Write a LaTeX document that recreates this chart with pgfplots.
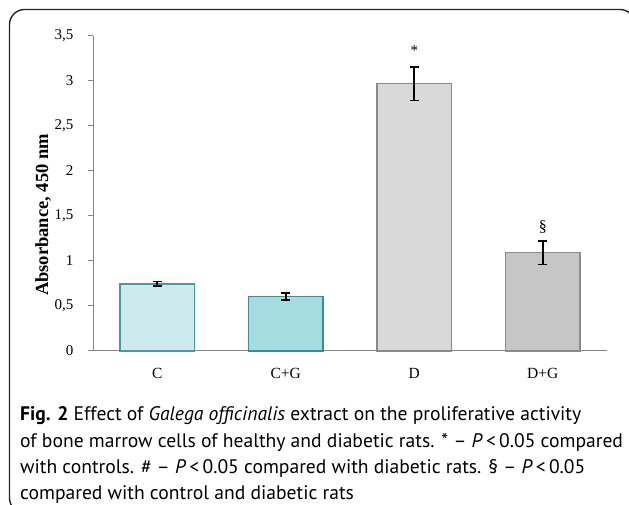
\documentclass[border=0pt]{standalone}
\usepackage{pgfplots}
\pgfplotsset{compat=1.18}
\usepackage{fontspec}
\setmainfont{Liberation Serif}
\newfontfamily\capfont{PT Sans}
\definecolor{cfill}{HTML}{CDEBEE}
\definecolor{cdraw}{HTML}{4A98A2}
\definecolor{cgfill}{HTML}{A6DCE0}
\definecolor{cgdraw}{HTML}{3F8B95}
\definecolor{dfill}{HTML}{D9D9D9}
\definecolor{dgfill}{HTML}{C6C6C6}
\definecolor{gdraw}{HTML}{8A8A8A}
\definecolor{axgray}{HTML}{868686}
\begin{document}
\begin{tikzpicture}[x=1pt,y=1pt]
\draw[line width=1.4pt, black!85, rounded corners=15pt] (9.5pt,-8pt) rectangle (635pt,495.5pt);
\begin{axis}[
  at={(93pt,154pt)}, anchor=south west,
  width=514pt, height=315pt, scale only axis,
  xmin=-0.5, xmax=3.5, ymin=0, ymax=3.5,
  axis lines*=left,
  axis line style={axgray, line width=1pt},
  tick style={axgray, line width=1pt},
  tick align=outside,
  ytick={0,0.5,1,1.5,2,2.5,3,3.5},
  yticklabels={0,{0,5},1,{1,5},2,{2,5},3,{3,5}},
  major tick length=5pt,
  xtick={0,1,2,3},
  xticklabels={C,C+G,D,D+G},
  x tick style={draw=none},
  minor xtick={-0.5,0.5,1.5,2.5,3.5},
  minor x tick style={axgray, line width=1pt},
  minor tick length=6pt,
  yticklabel style={font=\fontsize{15}{15}\selectfont, xshift=-11pt},
  xticklabel style={font=\fontsize{15.5}{15.5}\selectfont, yshift=-9pt},
  ylabel={Absorbance, 450 nm},
  ylabel style={at={(axis description cs:-0.097,0.432)}, anchor=center, rotate=0, font=\bfseries\fontsize{18.5}{18.5}\selectfont},
  clip=false,
]
\addplot[ybar, bar width=74.5pt, bar shift=0pt, fill=cfill, draw=cdraw, line width=1.2pt,
  error bars/.cd, y dir=both, y explicit,
  error bar style={black, line width=1.6pt},
  error mark options={rotate=90, mark size=4.5pt, line width=1.6pt, black}]
  coordinates {(0,0.745) +- (0,0.025)};
\addplot[ybar, bar width=74.5pt, bar shift=0pt, fill=cgfill, draw=cgdraw, line width=1.2pt,
  error bars/.cd, y dir=both, y explicit,
  error bar style={black, line width=1.6pt},
  error mark options={rotate=90, mark size=4.5pt, line width=1.6pt, black}]
  coordinates {(1,0.605) +- (0,0.04)};
\addplot[ybar, bar width=74.5pt, bar shift=0pt, fill=dfill, draw=gdraw, line width=1.2pt,
  error bars/.cd, y dir=both, y explicit,
  error bar style={black, line width=1.6pt},
  error mark options={rotate=90, mark size=4.5pt, line width=1.6pt, black}]
  coordinates {(2,2.97) +- (0,0.185)};
\addplot[ybar, bar width=74.5pt, bar shift=0pt, fill=dgfill, draw=gdraw, line width=1.2pt,
  error bars/.cd, y dir=both, y explicit,
  error bar style={black, line width=1.6pt},
  error mark options={rotate=90, mark size=4.5pt, line width=1.6pt, black}]
  coordinates {(3,1.09) +- (0,0.13)};
\node[font=\fontsize{15}{15}\selectfont] at (axis cs:2,3.34) {*};
\node[font=\fontsize{16}{16}\selectfont] at (axis cs:3,1.38) {§};
\end{axis}
\begin{scope}[every node/.style={anchor=base west, inner sep=0pt, font=\capfont\fontsize{19.6}{19.6}\selectfont}]
\node at (20pt,84pt) {\textbf{Fig. 2} Effect of \textit{Galega officinalis} extract on the proliferative activity};
\node at (20pt,57pt) {of bone marrow cells of healthy and diabetic rats. * – \textit{P}\,<\,0.05 compared};
\node at (20pt,31pt) {with controls. \# – \textit{P}\,<\,0.05 compared with diabetic rats. § – \textit{P}\,<\,0.05};
\node at (20pt,5pt) {compared with control and diabetic rats};
\end{scope}
\pgfresetboundingbox
\path[use as bounding box] (0pt,0pt) rectangle (629pt,505pt);
\end{tikzpicture}
\end{document}
